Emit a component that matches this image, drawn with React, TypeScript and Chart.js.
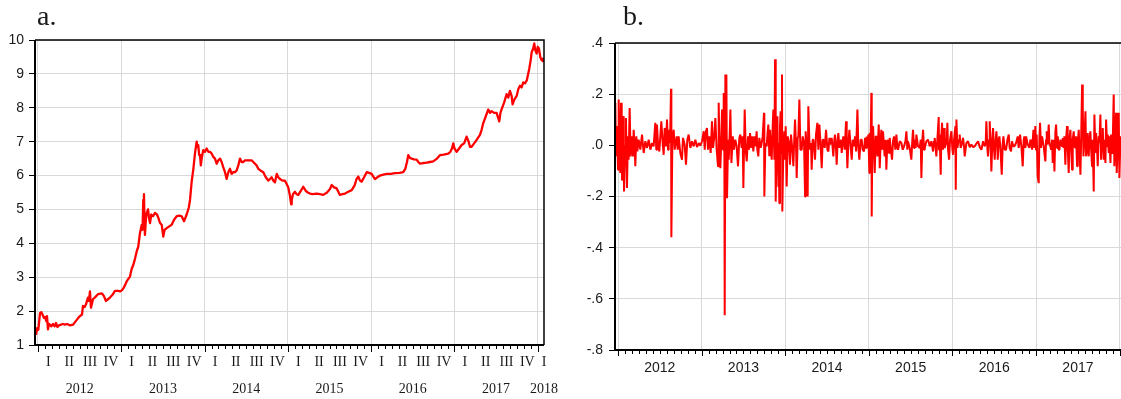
import React, { useEffect, useRef } from 'react';
import { Chart, registerables } from 'chart.js';

Chart.register(...registerables);

// ---------- data ----------
// Panel a: log price, x as decimal year
const PRICE_DATES = [
  2011.976, 2011.990, 2012.004, 2012.024, 2012.040, 2012.054, 2012.070, 2012.084, 2012.100, 2012.108,
  2012.120, 2012.132, 2012.144, 2012.160, 2012.180, 2012.200, 2012.216, 2012.234, 2012.252, 2012.275,
  2012.300, 2012.325, 2012.348, 2012.384, 2012.420, 2012.440, 2012.468, 2012.490, 2012.504, 2012.528,
  2012.540, 2012.560, 2012.576, 2012.600, 2012.612, 2012.624, 2012.636, 2012.660, 2012.690, 2012.720,
  2012.768, 2012.790, 2012.816, 2012.840, 2012.864, 2012.900, 2012.924, 2012.960, 2012.984, 2013.010,
  2013.032, 2013.070, 2013.104, 2013.125, 2013.144, 2013.165, 2013.185, 2013.204, 2013.224, 2013.245,
  2013.255, 2013.264, 2013.272, 2013.278, 2013.284, 2013.295, 2013.305, 2013.321, 2013.333, 2013.345,
  2013.360, 2013.381, 2013.405, 2013.429, 2013.445, 2013.465, 2013.485, 2013.504, 2013.520, 2013.545,
  2013.575, 2013.605, 2013.635, 2013.665, 2013.700, 2013.725, 2013.753, 2013.785, 2013.810, 2013.825,
  2013.845, 2013.864, 2013.885, 2013.905, 2013.915, 2013.924, 2013.935, 2013.945, 2013.955, 2013.965,
  2013.984, 2014.005, 2014.025, 2014.045, 2014.065, 2014.085, 2014.105, 2014.125, 2014.145, 2014.165,
  2014.185, 2014.205, 2014.224, 2014.245, 2014.265, 2014.285, 2014.305, 2014.325, 2014.345, 2014.365,
  2014.385, 2014.405, 2014.425, 2014.445, 2014.465, 2014.485, 2014.505, 2014.535, 2014.565, 2014.585,
  2014.605, 2014.625, 2014.645, 2014.670, 2014.705, 2014.735, 2014.765, 2014.785, 2014.805, 2014.825,
  2014.845, 2014.866, 2014.885, 2014.905, 2014.935, 2014.965, 2014.985, 2015.005, 2015.025, 2015.040,
  2015.046, 2015.061, 2015.085, 2015.105, 2015.125, 2015.155, 2015.185, 2015.215, 2015.240, 2015.265,
  2015.300, 2015.346, 2015.385, 2015.425, 2015.470, 2015.505, 2015.526, 2015.555, 2015.586, 2015.610,
  2015.625, 2015.655, 2015.686, 2015.725, 2015.766, 2015.800, 2015.825, 2015.845, 2015.866, 2015.886,
  2015.915, 2015.946, 2015.975, 2016.006, 2016.030, 2016.046, 2016.075, 2016.106, 2016.146, 2016.186,
  2016.236, 2016.286, 2016.340, 2016.385, 2016.410, 2016.430, 2016.445, 2016.465, 2016.486, 2016.515,
  2016.546, 2016.566, 2016.586, 2016.626, 2016.666, 2016.706, 2016.745, 2016.790, 2016.826, 2016.870,
  2016.926, 2016.950, 2016.970, 2016.986, 2017.000, 2017.026, 2017.056, 2017.086, 2017.116, 2017.146,
  2017.170, 2017.186, 2017.206, 2017.236, 2017.266, 2017.306, 2017.326, 2017.346, 2017.376, 2017.406,
  2017.426, 2017.446, 2017.476, 2017.506, 2017.538, 2017.552, 2017.566, 2017.596, 2017.626, 2017.646,
  2017.666, 2017.686, 2017.698, 2017.720, 2017.747, 2017.766, 2017.786, 2017.806, 2017.826, 2017.846,
  2017.867, 2017.885, 2017.898, 2017.915, 2017.927, 2017.945, 2017.958, 2017.970, 2017.987, 2018.000,
  2018.014, 2018.030, 2018.047, 2018.060, 2018.066,
];
const PRICE_VALUES = [
  1.30, 1.50, 1.45, 1.94, 1.97, 1.90, 1.80, 1.83, 1.70, 1.85,
  1.46, 1.62, 1.60, 1.55, 1.62, 1.55, 1.65, 1.53, 1.58, 1.60,
  1.62, 1.60, 1.62, 1.58, 1.60, 1.66, 1.75, 1.82, 1.85, 1.90,
  2.15, 2.12, 2.20, 2.40, 2.30, 2.58, 2.10, 2.35, 2.42, 2.50,
  2.52, 2.45, 2.30, 2.35, 2.40, 2.50, 2.60, 2.60, 2.58, 2.62,
  2.70, 2.90, 3.02, 3.25, 3.36, 3.55, 3.76, 3.90, 4.30, 4.54,
  4.40, 5.28, 5.45, 4.70, 4.25, 4.70, 4.90, 5.00, 4.75, 4.60,
  4.85, 4.80, 4.90, 4.85, 4.75, 4.60, 4.55, 4.20, 4.40, 4.45,
  4.50, 4.55, 4.70, 4.80, 4.82, 4.80, 4.65, 4.85, 5.05, 5.28,
  5.82, 6.17, 6.66, 7.00, 6.85, 6.90, 6.60, 6.60, 6.30, 6.50,
  6.75, 6.70, 6.80, 6.70, 6.70, 6.65, 6.55, 6.50, 6.35, 6.45,
  6.50, 6.40, 6.25, 6.10, 5.90, 6.10, 6.20, 6.05, 6.10, 6.10,
  6.15, 6.30, 6.50, 6.40, 6.40, 6.45, 6.45, 6.45, 6.45, 6.40,
  6.35, 6.30, 6.20, 6.15, 6.10, 5.95, 5.85, 5.90, 5.95, 5.85,
  5.80, 6.05, 5.95, 5.90, 5.85, 5.85, 5.75, 5.65, 5.40, 5.15,
  5.28, 5.45, 5.52, 5.45, 5.43, 5.55, 5.67, 5.55, 5.50, 5.47,
  5.45, 5.47, 5.45, 5.43, 5.50, 5.60, 5.72, 5.65, 5.62, 5.50,
  5.43, 5.45, 5.47, 5.52, 5.57, 5.70, 5.90, 5.97, 5.85, 5.82,
  5.95, 6.10, 6.08, 6.05, 5.95, 5.90, 5.95, 6.00, 6.03, 6.05,
  6.05, 6.07, 6.08, 6.10, 6.20, 6.40, 6.60, 6.52, 6.50, 6.48,
  6.47, 6.40, 6.35, 6.37, 6.38, 6.40, 6.42, 6.50, 6.60, 6.62,
  6.65, 6.70, 6.80, 6.95, 6.80, 6.70, 6.80, 6.90, 6.95, 7.15,
  7.00, 6.85, 6.85, 6.95, 7.05, 7.20, 7.35, 7.55, 7.75, 7.95,
  7.85, 7.90, 7.85, 7.85, 7.60, 7.85, 7.95, 8.15, 8.40, 8.30,
  8.50, 8.35, 8.10, 8.25, 8.35, 8.55, 8.65, 8.60, 8.75, 8.72,
  8.80, 9.00, 9.15, 9.40, 9.64, 9.75, 9.90, 9.70, 9.60, 9.80,
  9.75, 9.50, 9.40, 9.45, 9.35,
];

// Panel b: returns, x as decimal year
const RETURN_DATES = [
  2011.968, 2011.976, 2011.988, 2012.000, 2012.008, 2012.020, 2012.028, 2012.036, 2012.044, 2012.048,
  2012.056, 2012.068, 2012.072, 2012.084, 2012.095, 2012.107, 2012.119, 2012.127, 2012.139, 2012.151,
  2012.167, 2012.179, 2012.187, 2012.199, 2012.207, 2012.219, 2012.231, 2012.247, 2012.267, 2012.287,
  2012.307, 2012.327, 2012.347, 2012.367, 2012.387, 2012.407, 2012.426, 2012.446, 2012.458, 2012.466,
  2012.478, 2012.494, 2012.506, 2012.518, 2012.534, 2012.546, 2012.558, 2012.574, 2012.586, 2012.598,
  2012.606, 2012.622, 2012.634, 2012.638, 2012.650, 2012.666, 2012.678, 2012.686, 2012.702, 2012.714,
  2012.725, 2012.745, 2012.765, 2012.777, 2012.797, 2012.813, 2012.829, 2012.845, 2012.865, 2012.885,
  2012.905, 2012.925, 2012.945, 2012.965, 2012.985, 2013.005, 2013.025, 2013.037, 2013.052, 2013.064,
  2013.076, 2013.092, 2013.108, 2013.124, 2013.136, 2013.152, 2013.164, 2013.180, 2013.196, 2013.204,
  2013.212, 2013.224, 2013.236, 2013.244, 2013.256, 2013.264, 2013.272, 2013.276, 2013.284, 2013.292,
  2013.296, 2013.304, 2013.316, 2013.324, 2013.336, 2013.344, 2013.356, 2013.372, 2013.387, 2013.403,
  2013.419, 2013.435, 2013.451, 2013.463, 2013.479,
  2013.491, 2013.499, 2013.515, 2013.527, 2013.539, 2013.555, 2013.567, 2013.579, 2013.595, 2013.607,
  2013.618, 2013.634, 2013.646, 2013.658, 2013.666, 2013.678, 2013.690, 2013.706, 2013.718, 2013.730,
  2013.746, 2013.750, 2013.762, 2013.778, 2013.790, 2013.798, 2013.810, 2013.818, 2013.830, 2013.838,
  2013.850, 2013.858, 2013.870, 2013.878, 2013.886, 2013.898, 2013.906, 2013.918, 2013.922, 2013.929,
  2013.937, 2013.945, 2013.953, 2013.961, 2013.965, 2013.977, 2013.989, 2013.997, 2014.005, 2014.017,
  2014.029, 2014.045, 2014.057, 2014.069, 2014.085, 2014.097, 2014.109, 2014.117, 2014.129, 2014.137,
  2014.149, 2014.157, 2014.169, 2014.181, 2014.197, 2014.209, 2014.225, 2014.237, 2014.244, 2014.256,
  2014.268, 2014.276, 2014.288, 2014.296, 2014.308, 2014.316, 2014.328, 2014.336, 2014.348, 2014.356,
  2014.368, 2014.384, 2014.396, 2014.408, 2014.424, 2014.436, 2014.448, 2014.456, 2014.472, 2014.488,
  2014.504, 2014.516, 2014.528, 2014.536, 2014.555, 2014.567, 2014.575, 2014.587, 2014.595, 2014.607,
  2014.615, 2014.627, 2014.635, 2014.647, 2014.655, 2014.667, 2014.675, 2014.687, 2014.695, 2014.711,
  2014.727, 2014.735, 2014.743, 2014.755, 2014.767, 2014.783, 2014.795, 2014.807, 2014.823, 2014.835,
  2014.847, 2014.863, 2014.874, 2014.886, 2014.902, 2014.914, 2014.926, 2014.942, 2014.954, 2014.966,
  2014.974, 2014.986, 2014.994, 2015.006,
  2015.010, 2015.018, 2015.030, 2015.034, 2015.042, 2015.050, 2015.062, 2015.070, 2015.082, 2015.090,
  2015.102, 2015.118, 2015.130, 2015.142, 2015.149, 2015.161, 2015.169, 2015.181, 2015.189, 2015.201,
  2015.209, 2015.221, 2015.229, 2015.241, 2015.249, 2015.261, 2015.277, 2015.289, 2015.301, 2015.317,
  2015.329, 2015.341, 2015.349, 2015.369, 2015.389, 2015.405, 2015.421, 2015.437, 2015.449, 2015.460,
  2015.468, 2015.488, 2015.508, 2015.520, 2015.528, 2015.540, 2015.548, 2015.560, 2015.568, 2015.588,
  2015.608, 2015.620, 2015.628, 2015.640, 2015.648, 2015.660, 2015.668, 2015.688, 2015.708, 2015.728,
  2015.748, 2015.768, 2015.779, 2015.787, 2015.799, 2015.807, 2015.819, 2015.835, 2015.839, 2015.847,
  2015.859, 2015.867, 2015.875, 2015.887, 2015.899, 2015.907, 2015.919, 2015.931, 2015.939, 2015.947,
  2015.959, 2015.971, 2015.987, 2015.999, 2016.007, 2016.019, 2016.035, 2016.039, 2016.047, 2016.059,
  2016.067, 2016.079, 2016.086, 2016.098, 2016.114, 2016.126, 2016.138, 2016.146, 2016.166, 2016.186,
  2016.206, 2016.226, 2016.246, 2016.266, 2016.286, 2016.306, 2016.326, 2016.346, 2016.366, 2016.386,
  2016.397, 2016.405, 2016.417, 2016.425, 2016.437, 2016.445, 2016.457, 2016.465, 2016.477, 2016.485,
  2016.497, 2016.505, 2016.517, 2016.525, 2016.537,
  2016.541, 2016.553, 2016.561, 2016.573, 2016.589, 2016.601, 2016.609, 2016.625, 2016.641, 2016.657,
  2016.673, 2016.684, 2016.700, 2016.712, 2016.728, 2016.740, 2016.760, 2016.780, 2016.792, 2016.808,
  2016.824, 2016.840, 2016.852, 2016.860, 2016.872, 2016.880, 2016.900, 2016.920, 2016.932, 2016.940,
  2016.952, 2016.968, 2016.980, 2016.991, 2016.999, 2017.007, 2017.019, 2017.031, 2017.039, 2017.047,
  2017.059, 2017.071, 2017.079, 2017.091, 2017.099, 2017.111, 2017.119, 2017.127, 2017.139, 2017.151,
  2017.159, 2017.171, 2017.179, 2017.191, 2017.199, 2017.211, 2017.219, 2017.231, 2017.239, 2017.251,
  2017.259, 2017.271, 2017.279, 2017.291, 2017.299, 2017.310, 2017.318, 2017.330, 2017.338, 2017.350,
  2017.358, 2017.370, 2017.378, 2017.390, 2017.398, 2017.410, 2017.418, 2017.430, 2017.438, 2017.450,
  2017.458, 2017.470, 2017.478, 2017.490, 2017.498, 2017.510, 2017.518, 2017.530, 2017.538, 2017.550,
  2017.558, 2017.566, 2017.578, 2017.590, 2017.598, 2017.610, 2017.617, 2017.629, 2017.637, 2017.649,
  2017.657, 2017.669, 2017.677, 2017.689, 2017.697, 2017.709, 2017.717, 2017.729, 2017.737, 2017.749,
  2017.757, 2017.769, 2017.777, 2017.789, 2017.797, 2017.809, 2017.817, 2017.829, 2017.837, 2017.849,
  2017.857, 2017.869, 2017.877, 2017.889, 2017.897, 2017.909, 2017.917, 2017.928, 2017.936, 2017.948,
  2017.956, 2017.964, 2017.976, 2017.988, 2017.996, 2018.008, 2018.016, 2018.030, 2018.050, 2018.070,
];
const RETURN_VALUES = [
  0.166, -0.043, 0.075, -0.095, 0.179, -0.056, -0.108, 0.166, 0.009, -0.135,
  0.048, 0.114, -0.180, -0.004, 0.107, -0.167, 0.035, -0.056, 0.146, -0.043,
  0.035, -0.043, 0.061, -0.004, -0.082, 0.035, -0.024, 0.022, -0.017, 0.042,
  -0.030, 0.016, -0.010, 0.022, -0.017, 0.009, -0.004, 0.088, -0.017, 0.081,
  0.009, -0.024, 0.035, 0.094, 0.009, -0.037, 0.068, -0.004, 0.101, -0.017,
  0.061, 0.009, 0.221, -0.359, 0.022, 0.061, -0.017, 0.003, 0.035, -0.017,
  0.035, -0.030, -0.056, 0.029, 0.003, -0.076, 0.022, 0.042, -0.010, 0.016,
  -0.004, 0.022, -0.007, 0.009, -0.001, 0.016, 0.055, -0.017, 0.055, 0.068,
  -0.017, 0.035, -0.030, 0.094, -0.010, 0.035, 0.107, -0.017, -0.082, 0.166,
  0.022, -0.089, 0.035, 0.140, -0.017, 0.205, -0.030, -0.664, 0.277, 0.035,
  0.277, -0.207, 0.022, -0.056, 0.048, 0.140, -0.069, 0.035, -0.017, 0.022,
  -0.004, -0.082, 0.029, 0.042, -0.010,
  0.035, -0.167, 0.140, -0.017, -0.063, 0.035, -0.017, 0.048, -0.010, 0.035,
  -0.024, 0.035, -0.004, 0.055, -0.017, -0.043, 0.029, -0.010, 0.009, 0.035,
  0.127, -0.200, 0.009, -0.004, 0.055, 0.081, -0.043, 0.061, -0.017, -0.056,
  0.075, 0.140, -0.056, 0.336, -0.220, 0.048, 0.114, -0.161, 0.009, -0.226,
  0.075, 0.133, -0.030, 0.277, -0.259, -0.017, 0.055, -0.056, 0.075, -0.161,
  0.035, 0.009, -0.076, 0.042, -0.017, -0.082, 0.035, 0.101, -0.004, -0.128,
  0.029, 0.035, 0.179, -0.017, -0.017, 0.035, 0.009, -0.200, 0.055, -0.004,
  -0.200, 0.153, 0.022, -0.017, 0.009, -0.095, 0.022, 0.022, -0.017, -0.056,
  0.042, 0.088, -0.017, 0.081, -0.004, -0.089, 0.022, 0.022, -0.010, 0.061,
  -0.017, -0.024, 0.029, 0.003, 0.029, -0.010, -0.043, 0.022, 0.042, -0.010,
  -0.076, 0.022, 0.048, -0.010, 0.009, 0.022, -0.030, 0.016, 0.035, -0.017,
  0.094, -0.004, -0.089, 0.009, 0.061, -0.010, -0.056, 0.022, -0.004, 0.035,
  -0.024, 0.140, -0.004, -0.056, 0.022, 0.022, -0.017, -0.024, 0.029, -0.010,
  0.035, 0.003, 0.042, -0.108,
  0.048, -0.056, 0.205, -0.278, 0.035, 0.075, -0.030, -0.108, 0.035, 0.035,
  -0.043, 0.081, -0.089, 0.022, 0.061, -0.017, 0.055, -0.004, -0.043, 0.022,
  -0.095, 0.009, 0.022, -0.030, 0.029, -0.010, -0.056, 0.016, 0.035, -0.017,
  0.042, -0.010, -0.017, 0.016, 0.009, -0.017, -0.004, 0.016, 0.055, -0.017,
  0.016, -0.010, -0.056, 0.022, 0.061, -0.010, 0.022, -0.010, 0.042, -0.004,
  -0.010, 0.022, -0.128, 0.022, 0.061, -0.017, -0.010, 0.016, 0.022, -0.004,
  0.016, -0.024, 0.016, 0.029, -0.010, -0.043, 0.022, 0.111, -0.017, 0.042,
  -0.115, 0.035, 0.088, -0.017, 0.068, -0.010, 0.003, 0.022, 0.088, -0.017,
  -0.056, 0.022, 0.055, -0.017, -0.037, 0.022, 0.075, -0.174, 0.101, -0.010,
  0.009, 0.022, 0.042, -0.010, 0.009, 0.029, -0.004, -0.043, 0.009, 0.016,
  -0.007, 0.003, -0.007, -0.004, 0.007, 0.016, -0.007, -0.017, 0.016, -0.004,
  0.009, 0.094, -0.010, -0.043, 0.022, 0.094, -0.004, -0.102, 0.022, 0.068,
  -0.017, -0.056, 0.022, 0.055, -0.004,
  -0.056, 0.022, 0.035, -0.010, -0.115, 0.009, 0.035, -0.017, -0.017, 0.022,
  0.042, -0.010, -0.024, 0.016, -0.004, -0.004, 0.009, 0.035, -0.010, 0.042,
  -0.004, -0.082, 0.022, 0.035, -0.010, 0.035, 0.003, -0.010, 0.022, 0.016,
  -0.017, 0.061, -0.010, 0.075, -0.017, 0.042, -0.122, -0.148, 0.022, 0.088,
  -0.010, 0.035, 0.035, -0.004, -0.030, -0.063, 0.022, 0.055, 0.003, 0.081,
  0.009, -0.004, -0.017, 0.022, -0.069, 0.022, -0.102, 0.055, 0.081, -0.010,
  0.035, -0.017, -0.017, 0.022, 0.009, -0.004, 0.029, -0.010, 0.035, -0.076,
  0.022, 0.075, -0.004, -0.108, 0.022, 0.061, -0.004, -0.095, 0.022, 0.055,
  -0.004, -0.010, 0.035, -0.082, 0.009, 0.061, -0.017, -0.115, 0.009, 0.238,
  0.153, -0.043, 0.022, 0.133, -0.043, 0.048, -0.017, -0.043, 0.022, 0.055,
  -0.010, -0.082, 0.022, -0.180, 0.120, -0.030, 0.048, -0.010, -0.082, 0.035,
  0.009, 0.120, -0.056, 0.035, 0.068, -0.056, 0.022, -0.069, 0.101, -0.004,
  0.042, -0.030, 0.035, -0.069, 0.042, -0.030, 0.022, 0.199, -0.082, 0.022,
  0.127, -0.108, 0.009, 0.127, -0.128, 0.022, 0.035, -0.050, 0.060, -0.040,
];

const YEARS = [2012, 2013, 2014, 2015, 2016, 2017, 2018];
const QUARTERS = ['I', 'II', 'III', 'IV'];
const PRICE_TICKS = [1, 2, 3, 4, 5, 6, 7, 8, 9, 10];
const RETURN_TICKS = [-0.8, -0.6, -0.4, -0.2, 0, 0.2, 0.4];
const PANEL_TITLES = ['a.', 'b.'];

const X_MIN = 2011.964;
const X_MAX = 2018.075;

const RED = '#ff0000';
const GRID = '#d9d9d9';
const INK = '#1a1a1a';
const SANS = '"Liberation Sans", Arial, sans-serif';
const SERIF = '"Liberation Serif", "Times New Roman", serif';

function drawMonthTicks(ctx: CanvasRenderingContext2D, x: any, bottom: number, major: number, minor: number) {
  ctx.strokeStyle = '#000';
  ctx.lineWidth = 1;
  for (let y = 2012; y <= 2018; y++) {
    for (let m = 0; m < 12; m++) {
      const v = y + m / 12;
      if (v > X_MAX) break;
      const px = Math.round(x.getPixelForValue(v)) + 0.5;
      const len = m === 0 ? major : minor;
      ctx.beginPath();
      ctx.moveTo(px, bottom);
      ctx.lineTo(px, bottom + len);
      ctx.stroke();
    }
  }
}

function drawFrame(ctx: CanvasRenderingContext2D, a: any) {
  ctx.strokeStyle = '#000';
  ctx.lineWidth = 1.5;
  ctx.beginPath();
  ctx.moveTo(a.left, a.top);
  ctx.lineTo(a.right, a.top);
  ctx.lineTo(a.right, a.bottom);
  ctx.stroke();
  ctx.lineWidth = 2;
  ctx.beginPath();
  ctx.moveTo(a.left, a.top);
  ctx.lineTo(a.left, a.bottom);
  ctx.lineTo(a.right, a.bottom);
  ctx.stroke();
}

const leftDecor = {
  id: 'leftDecor',
  afterDraw(chart: any) {
    const { ctx, chartArea: a, scales } = chart;
    const x = scales.x;
    ctx.save();
    drawFrame(ctx, a);
    drawMonthTicks(ctx, x, a.bottom, 7, 4);
    ctx.fillStyle = INK;
    ctx.font = `14px ${SERIF}`;
    ctx.textAlign = 'center';
    ctx.textBaseline = 'middle';
    YEARS.forEach((yr) => {
      if (yr < 2018) {
        QUARTERS.forEach((q, i) => {
          ctx.fillText(q, x.getPixelForValue(yr + (i + 0.5) / 4), 362);
        });
        ctx.fillText(String(yr), x.getPixelForValue(yr + 0.5), 389);
      } else {
        ctx.fillText(QUARTERS[0], a.right, 362);
        ctx.fillText(String(yr), a.right, 389);
      }
    });
    ctx.textAlign = 'left';
    ctx.textBaseline = 'alphabetic';
    ctx.font = `28px ${SERIF}`;
    ctx.fillText(PANEL_TITLES[0], 37, 25);
    ctx.restore();
  },
};

const rightDecor = {
  id: 'rightDecor',
  afterDraw(chart: any) {
    const { ctx, chartArea: a, scales } = chart;
    const x = scales.x;
    ctx.save();
    drawFrame(ctx, a);
    drawMonthTicks(ctx, x, a.bottom, 6, 4);
    ctx.fillStyle = INK;
    ctx.font = `14px ${SANS}`;
    ctx.textAlign = 'center';
    ctx.textBaseline = 'middle';
    YEARS.forEach((yr) => {
      if (yr < 2018) ctx.fillText(String(yr), x.getPixelForValue(yr + 0.5), 368);
    });
    ctx.textAlign = 'left';
    ctx.textBaseline = 'alphabetic';
    ctx.font = `28px ${SERIF}`;
    ctx.fillText(PANEL_TITLES[1], 63, 25);
    ctx.restore();
  },
};

function fmtReturn(v: number) {
  const r = Math.round(v * 10) / 10;
  return r.toFixed(1).replace('0.', '.');
}

function makeLeftConfig(): any {
  return {
    type: 'line',
    data: {
      datasets: [{
        data: PRICE_DATES.map((d, i) => ({ x: d, y: PRICE_VALUES[i] })),
        borderColor: RED,
        borderWidth: 2.3,
        pointRadius: 0,
        tension: 0,
        fill: false,
        borderJoinStyle: 'round',
      }],
    },
    options: {
      animation: false,
      responsive: false,
      events: [],
      layout: { padding: { left: 0, top: 40, right: 16, bottom: 0 } },
      plugins: { legend: { display: false }, tooltip: { enabled: false }, title: { display: false } },
      scales: {
        x: {
          type: 'linear', min: X_MIN, max: X_MAX,
          afterBuildTicks: (s: any) => { s.ticks = YEARS.map((v) => ({ value: v })); },
          afterFit: (s: any) => { s.height = 54; },
          grid: { color: GRID, lineWidth: 1, drawTicks: false },
          border: { display: false },
          ticks: { display: false },
        },
        y: {
          type: 'linear', min: 1, max: 10,
          afterBuildTicks: (s: any) => { s.ticks = PRICE_TICKS.map((v) => ({ value: v })); },
          afterFit: (s: any) => { s.width = 35; },
          grid: { color: GRID, lineWidth: 1, tickColor: '#000', tickLength: 6, tickWidth: 1 },
          border: { display: false },
          ticks: { padding: 5, color: INK, font: { family: SANS, size: 14 } },
        },
      },
    },
    plugins: [leftDecor],
  };
}

function makeRightConfig(): any {
  return {
    type: 'line',
    data: {
      datasets: [{
        data: RETURN_DATES.map((d, i) => ({ x: d, y: RETURN_VALUES[i] })),
        borderColor: RED,
        borderWidth: 2,
        pointRadius: 0,
        tension: 0,
        fill: false,
        borderJoinStyle: 'bevel',
      }],
    },
    options: {
      animation: false,
      responsive: false,
      events: [],
      layout: { padding: { left: 0, top: 43, right: 14, bottom: 0 } },
      plugins: { legend: { display: false }, tooltip: { enabled: false }, title: { display: false } },
      scales: {
        x: {
          type: 'linear', min: X_MIN, max: X_MAX,
          afterBuildTicks: (s: any) => { s.ticks = YEARS.map((v) => ({ value: v })); },
          afterFit: (s: any) => { s.height = 49; },
          grid: { color: GRID, lineWidth: 1, drawTicks: false },
          border: { display: false },
          ticks: { display: false },
        },
        y: {
          type: 'linear', min: -0.8, max: 0.4,
          afterBuildTicks: (s: any) => { s.ticks = RETURN_TICKS.map((v) => ({ value: v })); },
          afterFit: (s: any) => { s.width = 55; },
          grid: { color: GRID, lineWidth: 1, tickColor: '#000', tickLength: 6, tickWidth: 1 },
          border: { display: false },
          ticks: { padding: 6, color: INK, font: { family: SANS, size: 14 }, callback: (v: number) => fmtReturn(v) },
        },
      },
    },
    plugins: [rightDecor],
  };
}

function ChartCanvas({ make, left, width, height }: { make: () => any; left: number; width: number; height: number }) {
  const ref = useRef<HTMLCanvasElement>(null);
  useEffect(() => {
    const chart = new Chart(ref.current as HTMLCanvasElement, make());
    return () => chart.destroy();
  }, []);
  return (
    <canvas
      ref={ref}
      width={width}
      height={height}
      style={{ position: 'absolute', left, top: 0, width, height, display: 'block' }}
    />
  );
}

export default function App() {
  return (
    <div style={{ position: 'fixed', left: 0, top: 0, width: 1121, height: 399, overflow: 'hidden', background: '#fff' }}>
      <ChartCanvas make={makeLeftConfig} left={0} width={560} height={399} />
      <ChartCanvas make={makeRightConfig} left={560} width={580} height={399} />
    </div>
  );
}
